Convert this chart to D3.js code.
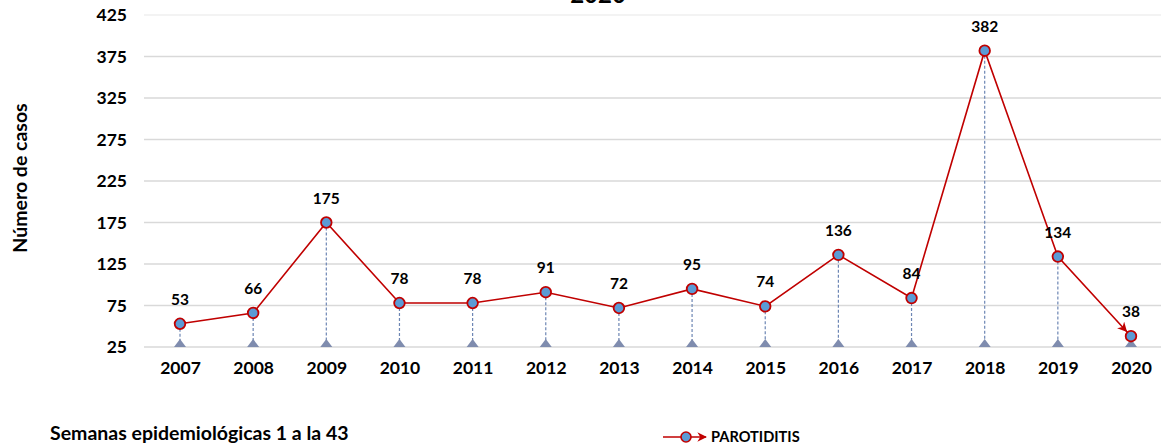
<!DOCTYPE html>
<html><head><meta charset="utf-8">
<script src="https://cdn.jsdelivr.net/npm/d3@7"></script>
<style>
html,body{margin:0;padding:0;background:#fff;}
svg{display:block;font-family:Lato,"Open Sans",sans-serif;font-weight:bold;}
</style></head>
<body>
<svg id="chart" width="1161" height="446"></svg>
<script>
const years = ["2007","2008","2009","2010","2011","2012","2013","2014","2015","2016","2017","2018","2019","2020"];
const cases = [53,66,175,78,78,91,72,95,74,136,84,382,134,38];
const yTicks = [25,75,125,175,225,275,325,375,425];
const seriesName = "PAROTIDITIS";
const titleText = "2020";
const yLabel = "Número de casos";
const footNote = "Semanas epidemiológicas 1 a la 43";

const svg = d3.select("#chart");
const x = d3.scalePoint().domain(years).range([180,1131]);
const y = d3.scaleLinear().domain([25,425]).range([347,15]);
const red = "#c00000", blue = "#5b9bd5", drop = "#6d86b4", tri = "#7f8cae";

// gridlines
svg.append("g").selectAll("line").data(yTicks).join("line")
  .attr("x1",144).attr("x2",1161)
  .attr("y1",d=>y(d)).attr("y2",d=>y(d))
  .attr("stroke",d=>d===425?"#efefef":"#d9d9d9").attr("stroke-width",1.3);

// y axis labels
const yAxis = d3.axisLeft(y).tickValues(yTicks).tickSize(0).tickPadding(0);
const gy = svg.append("g").attr("transform","translate(127,0)").call(yAxis);
gy.select(".domain").remove();
gy.selectAll("text").attr("font-size",17.5).attr("font-family","Lato, sans-serif").attr("font-weight","bold").attr("fill","#000");

// x axis labels
const xAxis = d3.axisBottom(x).tickSize(0).tickPadding(0);
const gx = svg.append("g").attr("transform","translate(0,362)").call(xAxis);
gx.select(".domain").remove();
gx.selectAll("text").attr("font-size",17.5).attr("font-family","Lato, sans-serif").attr("font-weight","bold").attr("fill","#000");

const data = years.map((yr,i)=>({yr, v:cases[i]}));

// drop lines
svg.append("g").selectAll("line").data(data).join("line")
  .attr("x1",d=>x(d.yr)).attr("x2",d=>x(d.yr))
  .attr("y1",d=>y(d.v)).attr("y2",y(25))
  .attr("stroke",drop).attr("stroke-width",1.2).attr("stroke-dasharray","3,2");

// triangles at baseline
svg.append("g").selectAll("path").data(data).join("path")
  .attr("d",d=>{const cx=x(d.yr), by=y(25); return `M${cx-6},${by}L${cx+6},${by}L${cx},${by-8}Z`;})
  .attr("fill",tri);

// arrow markers
const defs = svg.append("defs");
defs.append("marker").attr("id","arr").attr("viewBox","0 0 10 10")
  .attr("refX",16).attr("refY",5).attr("markerWidth",6).attr("markerHeight",6)
  .attr("orient","auto").attr("markerUnits","strokeWidth")
  .append("path").attr("d","M0,0L10,5L0,10L3,5Z").attr("fill",red);
defs.append("marker").attr("id","arrL").attr("viewBox","0 0 10 10")
  .attr("refX",9).attr("refY",5).attr("markerWidth",6).attr("markerHeight",6)
  .attr("orient","auto").attr("markerUnits","strokeWidth")
  .append("path").attr("d","M0,0L10,5L0,10L3,5Z").attr("fill",red);

const line = d3.line().x(d=>x(d.yr)).y(d=>y(d.v));
svg.append("path").datum(data).attr("d",line)
  .attr("fill","none").attr("stroke",red).attr("stroke-width",1.6)
  .attr("marker-end","url(#arr)");

// points
svg.append("g").selectAll("circle").data(data).join("circle")
  .attr("cx",d=>x(d.yr)).attr("cy",d=>y(d.v)).attr("r",5.3)
  .attr("fill",blue).attr("stroke",red).attr("stroke-width",1.8);

// value labels
svg.append("g").selectAll("text").data(data).join("text")
  .attr("x",d=>x(d.yr)).attr("y",d=>y(d.v)-19)
  .attr("text-anchor","middle").attr("font-size",15.5).attr("fill","#000")
  .text(d=>d.v);

// title (clipped at top, as in the reference)
svg.append("text").attr("x",598).attr("y",3).attr("text-anchor","middle")
  .attr("font-size",24).attr("fill","#000").text(titleText);

// y label
svg.append("text").attr("transform","translate(27,178) rotate(-90)")
  .attr("text-anchor","middle").attr("font-size",19.5).attr("fill","#000").text(yLabel);

// footnote
svg.append("text").attr("x",50).attr("y",440).attr("font-size",19.5).attr("fill","#000").text(footNote);

// legend
const lg = svg.append("g");
lg.append("line").attr("x1",663).attr("x2",706).attr("y1",437).attr("y2",437)
  .attr("stroke",red).attr("stroke-width",1.6).attr("marker-end","url(#arrL)");
lg.append("circle").attr("cx",686).attr("cy",437).attr("r",5).attr("fill",blue).attr("stroke",red).attr("stroke-width",1.6);
lg.append("text").attr("x",711).attr("y",442).attr("font-size",14.6).attr("fill","#000").text(seriesName);
</script>
</body></html>
